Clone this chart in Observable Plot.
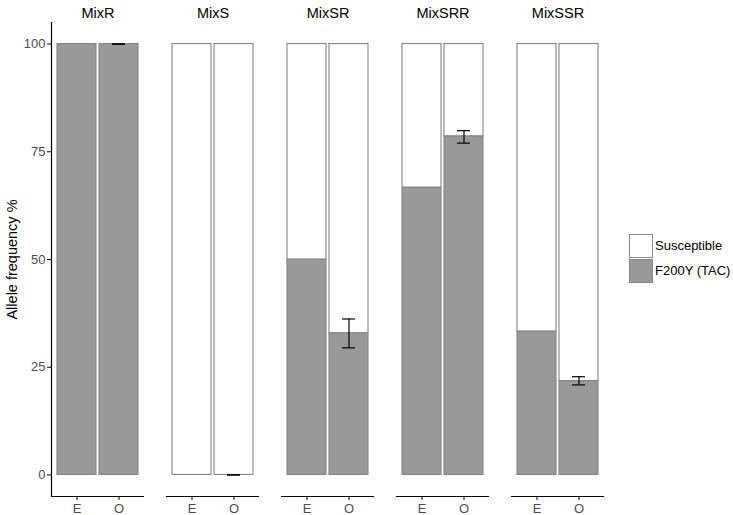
<!DOCTYPE html>
<html><head><meta charset="utf-8">
<script src="https://cdn.jsdelivr.net/npm/d3@7"></script>
<script src="https://cdn.jsdelivr.net/npm/@observablehq/plot@0.6"></script>
<style>
body{margin:0;background:#fff;font-family:"Liberation Sans",Arial,sans-serif;}
#wrap{position:relative;width:733px;height:515px;}
.legend{position:absolute;left:629px;top:233px;font-size:13px;color:#000;}
.legend .row{display:flex;align-items:center;height:25px;}
.legend .key{width:22px;height:22px;border:1px solid #888;box-sizing:content-box;margin-right:2px;}
g[aria-label="fx-axis tick label"]{font-size:14.5px;}
g[aria-label="y-axis tick label"]{font-size:13px;}
g[aria-label="x-axis tick label"]{font-size:13px;}
g[aria-label="y-axis label"]{font-size:14.5px;}
</style></head><body><div id="wrap"></div>
<script>
const mixes = ["MixR", "MixS", "MixSR", "MixSRR", "MixSSR"];
const populations = ["E", "O"];
const alleles = ["F200Y (TAC)", "Susceptible"];
const legendOrder = ["Susceptible", "F200Y (TAC)"];
const alleleColors = ["#ffffff", "#999999"];
// F200Y (TAC) frequency % per mix, [E, O]
const resistantPct = [[100, 100], [0, 0], [50, 32.9], [66.7, 78.6], [33.3, 21.8]];
// error range for O population
const errLow = [100, 0, 29.5, 77.0, 20.9];
const errHigh = [100, 0, 36.2, 79.9, 22.8];
const yTicks = [0, 25, 50, 75, 100];

const rows = [];
mixes.forEach((m, i) => populations.forEach((p, j) => {
  rows.push({mix: m, pop: p, allele: alleles[0], value: resistantPct[i][j]});
  rows.push({mix: m, pop: p, allele: alleles[1], value: 100 - resistantPct[i][j]});
}));
const errRows = mixes.map((m, i) => ({mix: m, pop: "O", lo: errLow[i], hi: errHigh[i]}));

const chart = Plot.plot({
  width: 733, height: 515,
  marginLeft: 51, marginRight: 129, marginTop: 22, marginBottom: 19,
  style: {fontFamily: "Liberation Sans, Arial, sans-serif", fontSize: "13px", background: "white", overflow: "visible"},
  fx: {domain: mixes, paddingInner: 22 / 115, paddingOuter: 0, label: null},
  x: {domain: populations, paddingInner: 3 / 42, paddingOuter: 6 / 42, label: null},
  y: {domain: [-5, 105], label: null},
  color: {domain: legendOrder, range: alleleColors},
  marks: [
    Plot.barY(rows, {fx: "mix", x: "pop", y: "value", fill: "allele", stroke: "#858585", strokeWidth: 1.1, order: alleles}),
    Plot.ruleX(errRows, {fx: "mix", x: "pop", y1: "lo", y2: "hi", stroke: "black", strokeWidth: 1.2}),
    Plot.tickY(errRows, {fx: "mix", x: "pop", y: "lo", insetLeft: 13, insetRight: 13, stroke: "black", strokeWidth: 1.2}),
    Plot.tickY(errRows, {fx: "mix", x: "pop", y: "hi", insetLeft: 13, insetRight: 13, stroke: "black", strokeWidth: 1.2}),
    Plot.ruleY([-5], {stroke: "black", strokeWidth: 1.2}),
    Plot.frame({anchor: "left", facetAnchor: "left", stroke: "black", strokeWidth: 1.2}),
    Plot.axisY(yTicks, {tickSize: 4, tickPadding: 2, label: null, fill: "#4d4d4d", stroke: "black"}),
    Plot.axisY([], {label: "Allele frequency %", labelAnchor: "center", labelArrow: "none", labelOffset: 45, fill: "black"}),
    Plot.axisX({tickSize: 4, tickPadding: 3, label: null, fill: "#4d4d4d", stroke: "black"}),
    Plot.axisFx({anchor: "top", tickSize: 0, tickPadding: 5, label: null, fill: "black"})
  ]
});
const wrap = document.getElementById("wrap");
wrap.appendChild(chart);
const legend = document.createElement("div");
legend.className = "legend";
legendOrder.forEach((a, i) => {
  const r = document.createElement("div");
  r.className = "row";
  const k = document.createElement("div");
  k.className = "key";
  k.style.background = alleleColors[i];
  const t = document.createElement("span");
  t.textContent = a;
  r.appendChild(k); r.appendChild(t);
  legend.appendChild(r);
});
wrap.appendChild(legend);
</script></body></html>
